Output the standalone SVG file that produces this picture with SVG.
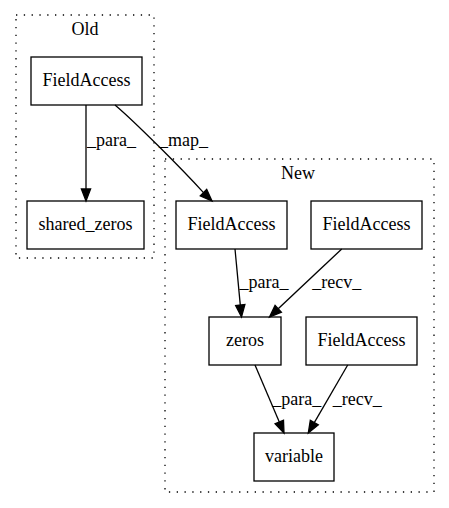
<svg xmlns="http://www.w3.org/2000/svg" width="449" height="508" viewBox="0 0 449 508">
<style>
text{font-family:"Liberation Serif","Times New Roman",serif;font-size:18px;fill:#000;text-anchor:middle}
.node rect{fill:none;stroke:#000;stroke-width:1.3}
.cluster rect{fill:none;stroke:#000;stroke-width:1.3;stroke-dasharray:1.3,6.5}
.edge path{fill:none;stroke:#000;stroke-width:1.3}
.edge polygon{fill:#000;stroke:#000;stroke-width:1.3}
</style>
<rect width="449" height="508" fill="#fff"/>
<g id="cluster_old" class="cluster"><rect x="16" y="15" width="138" height="243"/><text x="85" y="35">Old</text></g>
<g id="cluster_new" class="cluster"><rect x="165" y="159" width="269" height="333"/><text x="298" y="179">New</text></g>
<g id="old_fieldaccess" class="node"><rect x="31" y="57" width="111" height="48"/><text x="86.5" y="86">FieldAccess</text></g>
<g id="shared_zeros" class="node"><rect x="27" y="201" width="117" height="48"/><text x="85.5" y="230">shared_zeros</text></g>
<g id="new_fieldaccess1" class="node"><rect x="176" y="201" width="111" height="48"/><text x="231.5" y="230">FieldAccess</text></g>
<g id="new_fieldaccess2" class="node"><rect x="311" y="201" width="111" height="48"/><text x="366.5" y="230">FieldAccess</text></g>
<g id="zeros" class="node"><rect x="209" y="317" width="72" height="48"/><text x="245" y="346">zeros</text></g>
<g id="new_fieldaccess3" class="node"><rect x="306" y="317" width="111" height="48"/><text x="361.5" y="346">FieldAccess</text></g>
<g id="variable" class="node"><rect x="254" y="433" width="80" height="48"/><text x="294" y="462">variable</text></g>
<g id="connectors">
<g class="edge"><path d="M86,105 L86,189"/><polygon points="81.4,189 86,201 90.6,189"/><text x="111.5" y="146">_para_</text></g>
<g class="edge"><path d="M115,105 C135,122 180,167 203.5,192.6"/><polygon points="200.3,195.9 212,201 206.7,189.3"/><text x="183.5" y="146">_map_</text></g>
<g class="edge"><path d="M235,249 L240.3,305.1"/><polygon points="235.7,305.6 241.5,317 244.9,304.6"/><text x="264" y="288">_para_</text></g>
<g class="edge"><path d="M341.7,249 L278.2,308.8"/><polygon points="275.1,305.4 269.5,317 281.4,312.2"/><text x="336.7" y="288">_recv_</text></g>
<g class="edge"><path d="M255,365 L279.3,422"/><polygon points="275.1,423.8 284,433 283.5,420.2"/><text x="296.7" y="405">_para_</text></g>
<g class="edge"><path d="M347.7,365 L314.3,422.6"/><polygon points="310.3,420.3 308.3,433 318.3,424.9"/><text x="357.2" y="405">_recv_</text></g>
</g>
</svg>
